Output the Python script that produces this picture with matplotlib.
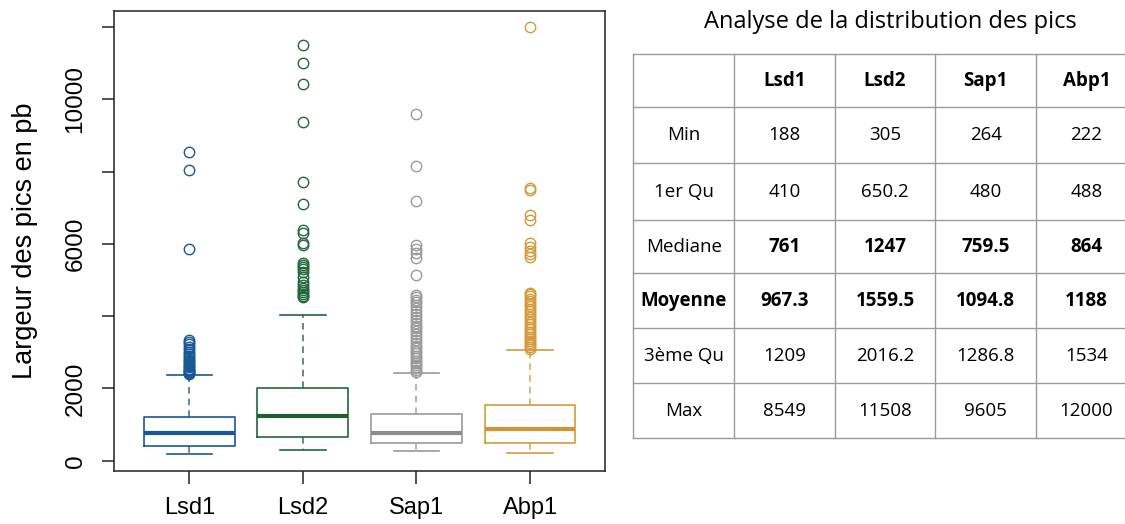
import numpy as np
import matplotlib
matplotlib.use("Agg")
import matplotlib.pyplot as plt

# --- data ---
genes = ["Lsd1", "Lsd2", "Sap1", "Abp1"]
colors = ["#1a5796", "#21673a", "#9a9a9a", "#d49a3a"]
med_colors = ["#1a5796", "#1e6034", "#8c8c8c", "#cf9535"]

mins = [188, 305, 264, 222]
q1 = [410, 650.2, 480, 488]
medians = [761, 1247, 759.5, 864]
q3 = [1209, 2016.2, 1286.8, 1534]
upper_whis = [2371, 4031, 2436, 3063]

fliers_lsd1 = [2390, 2420, 2450, 2480, 2510, 2540, 2580, 2620, 2660, 2700,
               2750, 2800, 2850, 2900, 2960, 3020, 3080, 3150, 3220, 3290,
               3340, 5858, 8052, 8549]
fliers_lsd2 = [4521, 4560, 4610, 4660, 4723, 4790, 4862, 4950, 5091, 5230,
               5300, 5368, 5415, 5462, 5970, 6015, 6292, 6384, 7111, 7712,
               9372, 10432, 11013, 11508]
fliers_sap1 = [2460, 2520, 2580, 2640, 2700, 2760, 2830, 2900, 2970, 3040,
               3110, 3180, 3260, 3340, 3420, 3500, 3580, 3660, 3740, 3820,
               3900, 3980, 4060, 4140, 4220, 4300, 4380, 4460, 4530, 4585,
               5138, 5600, 5739, 5850, 5968, 7177, 8154, 9605]
fliers_abp1 = [3090, 3140, 3190, 3250, 3310, 3370, 3430, 3500, 3570, 3640,
               3710, 3780, 3850, 3920, 3990, 4060, 4130, 4200, 4270, 4340,
               4410, 4480, 4550, 4600, 4632, 5640, 5720, 5800, 5900, 6020,
               6660, 6800, 7490, 7537, 12000]
fliers = [fliers_lsd1, fliers_lsd2, fliers_sap1, fliers_abp1]

# summary table
row_labels = ["Min", "1er Qu", "Mediane", "Moyenne", "3ème Qu", "Max"]
table_rows = [
    ["188", "305", "264", "222"],
    ["410", "650.2", "480", "488"],
    ["761", "1247", "759.5", "864"],
    ["967.3", "1559.5", "1094.8", "1188"],
    ["1209", "2016.2", "1286.8", "1534"],
    ["8549", "11508", "9605", "12000"],
]
bold_values = ["Mediane", "Moyenne"]
bold_labels = ["Moyenne"]

W, H = 1125, 524
fig = plt.figure(figsize=(W / 100, H / 100), dpi=100)
plt.rcParams["font.family"] = ["Liberation Sans", "DejaVu Sans"]

# --- boxplot ---
ax = fig.add_axes([114.3 / W, 1 - 471 / H, 490.7 / W, 460.3 / H])
pos = np.arange(1, len(genes) + 1)
for i in range(len(genes)):
    st = dict(med=medians[i], q1=q1[i], q3=q3[i], whislo=mins[i],
              whishi=upper_whis[i], fliers=fliers[i], label=genes[i])
    c = colors[i]
    ax.bxp([st], positions=[pos[i]], widths=0.8, capwidths=0.4,
           boxprops=dict(color=c, lw=1.2),
           medianprops=dict(color=med_colors[i], lw=3, solid_capstyle="butt"),
           whiskerprops=dict(color=c, lw=1.2, ls=(0, (4, 3)), alpha=0.85),
           capprops=dict(color=c, lw=1.2),
           flierprops=dict(marker="o", markerfacecolor="none",
                           markeredgecolor=c, markersize=7.5, mew=1.0))

ax.set_xlim(0.34, 4.66)
ax.set_ylim(-285, 12452)
ax.set_xticks(pos)
ax.set_xticklabels(genes, fontsize=17)
ax.set_yticks(range(0, 12001, 2000))
ax.set_yticklabels(["0", "2000", "", "6000", "", "10000", ""],
                   rotation=90, va="center", fontsize=17.5)
ax.tick_params(axis="both", direction="out", length=9, width=1.1, color="#222222")
ax.tick_params(axis="x", pad=10)
ax.tick_params(axis="y", pad=11)
for s in ax.spines.values():
    s.set_linewidth(1.1)
    s.set_color("#222222")
ax.set_ylabel("Largeur des pics en pb", fontsize=19.5, labelpad=19)

# --- table ---
tx = fig.add_axes([0, 0, 1, 1])
tx.set_xlim(0, W)
tx.set_ylim(H, 0)
tx.axis("off")

tfont = ["Open Sans", "DejaVu Sans"]
col_x = [633.3, 734.3, 834.8, 935.3, 1036, 1137]
row_y = [54.3, 107.3, 163.3, 220, 273.3, 328.3, 383.3, 438.3]
grid_c = "#9a9a9a"
fs = 13.5

tx.text(890, 22, "Analyse de la distribution des pics", ha="center",
        va="center", fontsize=17, family=tfont)
for y in row_y:
    tx.plot([col_x[0], col_x[-1]], [y, y], color=grid_c, lw=1.0)
for x in col_x[:-1]:
    tx.plot([x, x], [row_y[0], row_y[-1]], color=grid_c, lw=1.0)

cx = [(col_x[k] + col_x[k + 1]) / 2 for k in range(len(col_x) - 1)]
cy = [(row_y[k] + row_y[k + 1]) / 2 for k in range(len(row_y) - 1)]
for j, g in enumerate(genes):
    tx.text(cx[j + 1], cy[0], g, ha="center", va="center", fontsize=fs,
            fontweight="bold", family=tfont)
for i, lab in enumerate(row_labels):
    tx.text(cx[0], cy[i + 1], lab, ha="center", va="center", fontsize=fs,
            fontweight="bold" if lab in bold_labels else "normal", family=tfont)
    for j, v in enumerate(table_rows[i]):
        tx.text(cx[j + 1], cy[i + 1], v, ha="center", va="center",
                fontsize=fs,
                fontweight="bold" if lab in bold_values else "normal",
                family=tfont)

fig.savefig("out.png", dpi=100)
